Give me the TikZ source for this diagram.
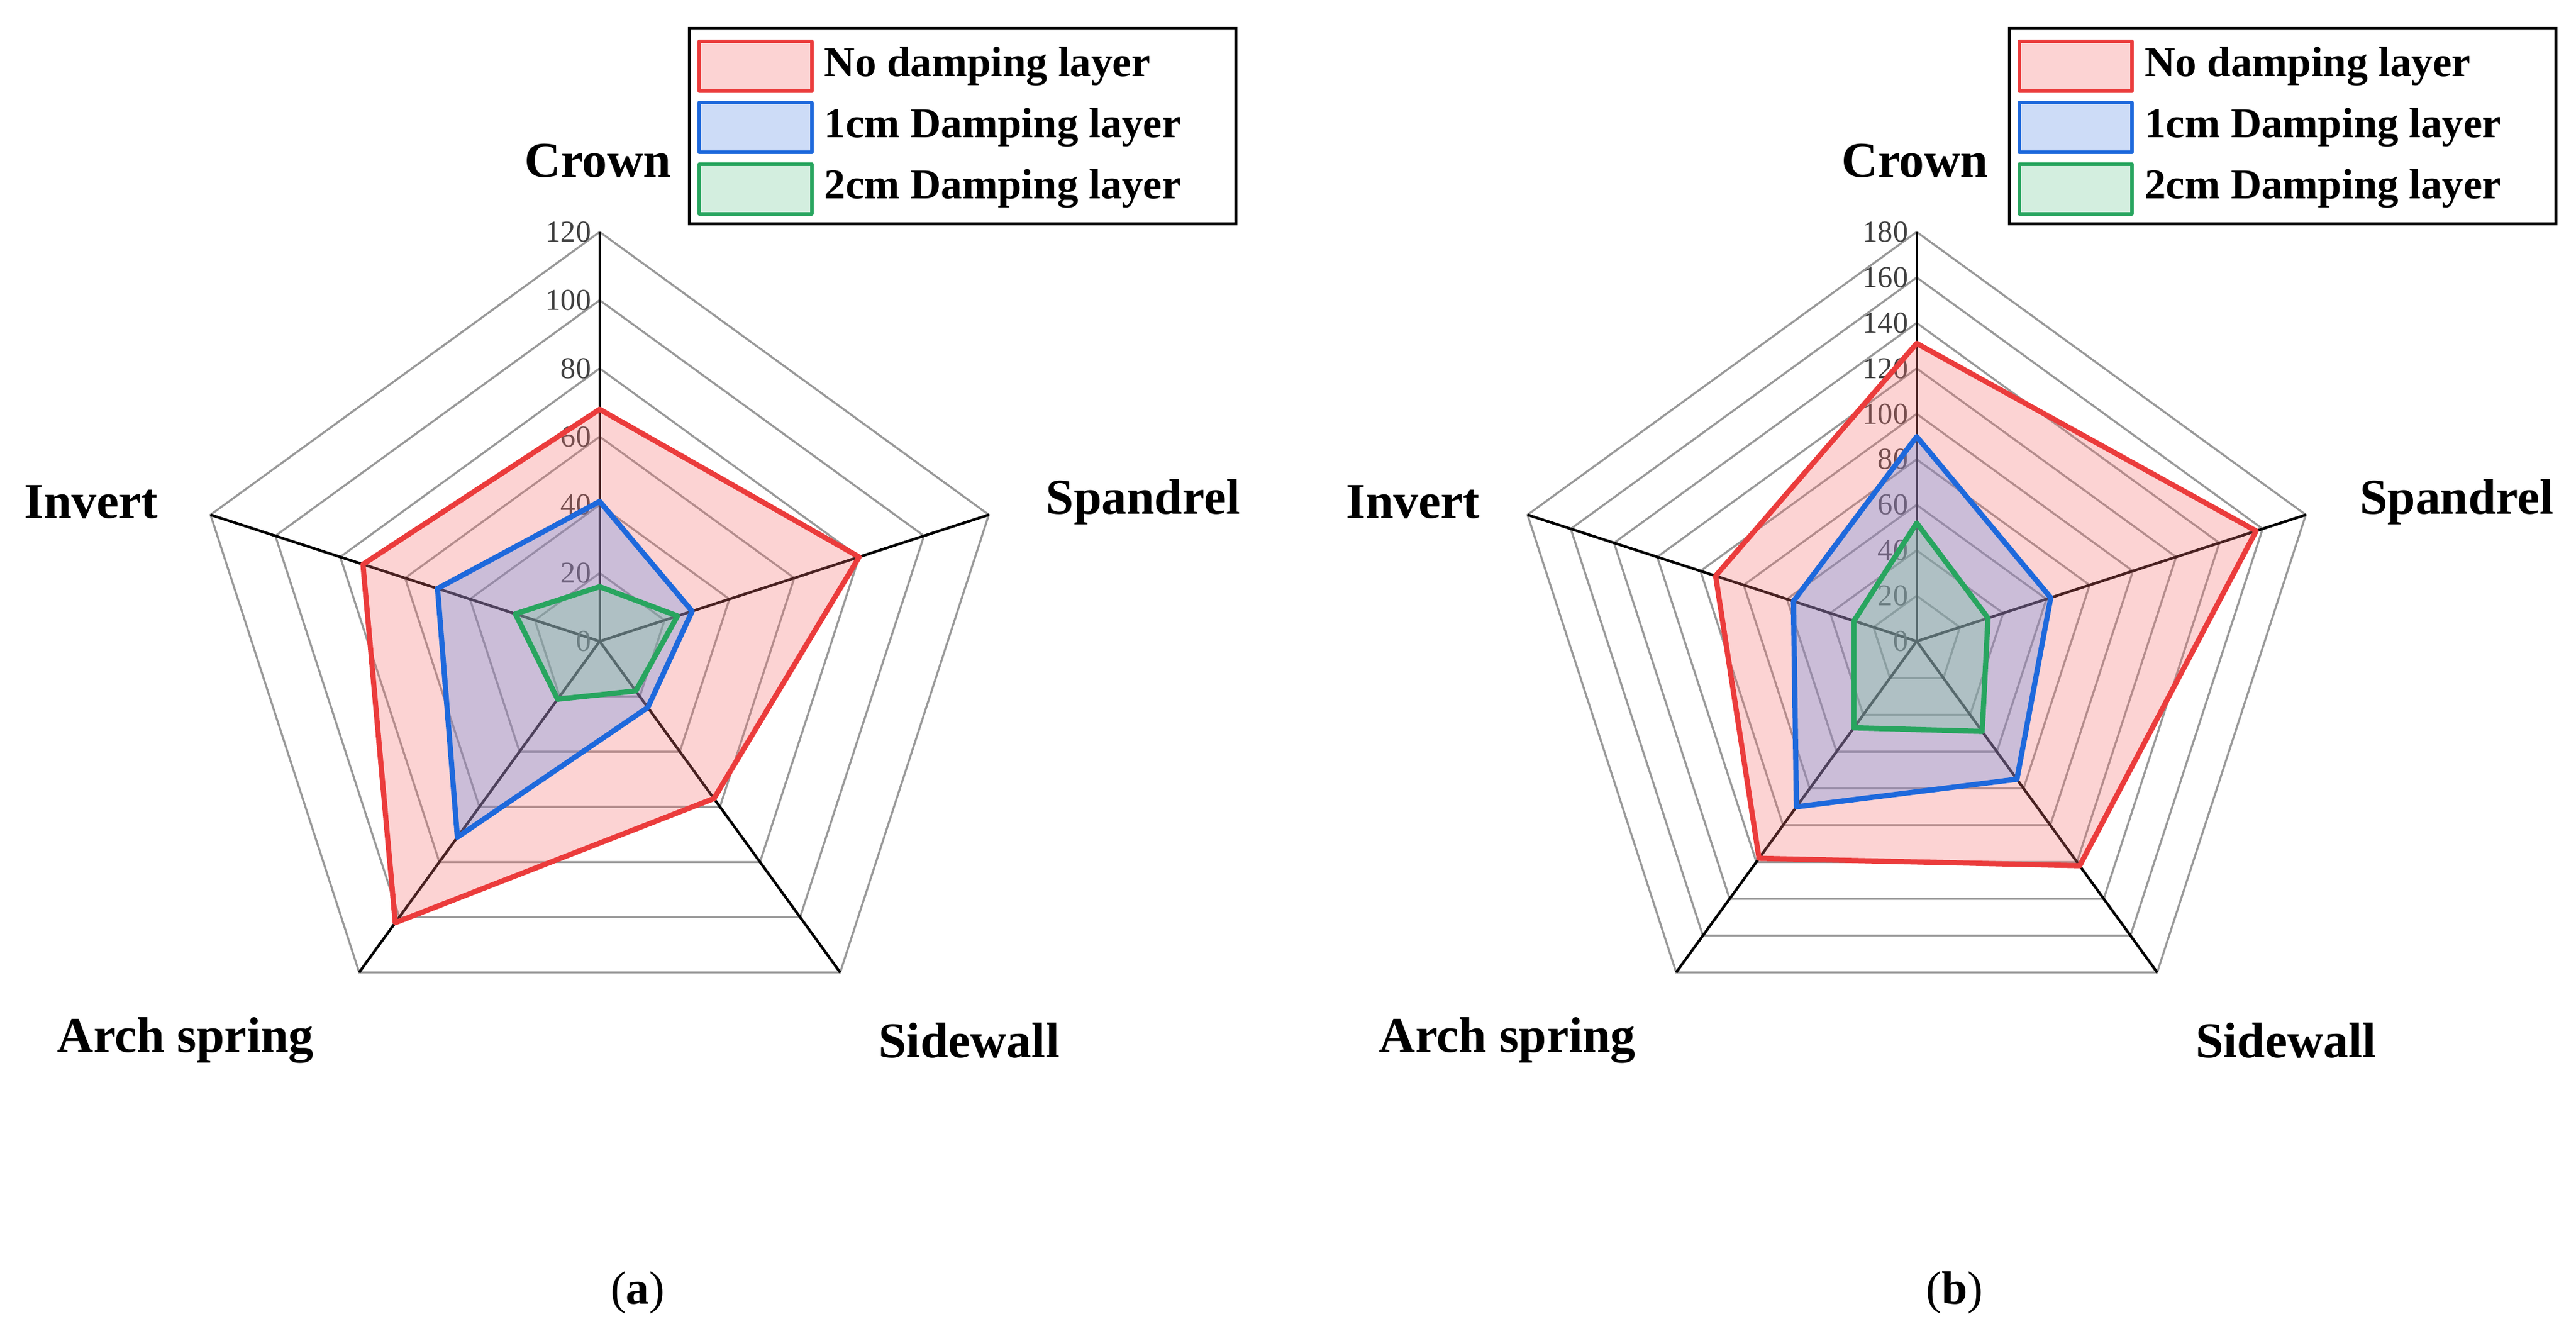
\documentclass[tikz,border=0pt]{standalone}
\usepackage{fontspec}
\setmainfont{Liberation Serif}
\begin{document}
\begin{tikzpicture}[x=1cm,y=1cm,
  ring/.style={draw=gray!80, line width=0.35pt},
  spoke/.style={draw=black, line width=0.45pt},
  tick/.style={font=\fontsize{5.2}{6}\selectfont, text=black!75, anchor=east, inner sep=1pt},
  axlab/.style={font=\bfseries\fontsize{8.6}{10}\selectfont},
  leg/.style={font=\bfseries\fontsize{7.3}{8.5}\selectfont, anchor=west, inner sep=0pt},
  redp/.style={draw={rgb,255:red,235;green,60;blue,60}, fill={rgb,255:red,245;green,110;blue,110}, fill opacity=0.3, line width=0.9pt, line join=round},
  bluep/.style={draw={rgb,255:red,30;green,105;blue,220}, fill={rgb,255:red,90;green,140;blue,230}, fill opacity=0.3, line width=0.9pt, line join=round},
  greenp/.style={draw={rgb,255:red,40;green,165;blue,95}, fill={rgb,255:red,110;green,200;blue,150}, fill opacity=0.3, line width=0.9pt, line join=round},
]
\useasboundingbox (0,0) rectangle (15.55,7.99);
\def\R{2.47}
% ---------------- chart (a)
\begin{scope}[shift={(3.62,4.12)}]
  \foreach \k in {1,...,6}{
    \draw[ring] (90:\k*\R/6) -- (18:\k*\R/6) -- (-54:\k*\R/6) -- (-126:\k*\R/6) -- (162:\k*\R/6) -- cycle;}
  \foreach \a in {90,18,-54,-126,162}{\draw[spoke] (0,0) -- (\a:\R);}
  \foreach \k in {0,...,6}{\pgfmathtruncatemacro\v{\k*20}\node[tick] (ta\k) at (-0.01,\k*\R/6) {\v};}
  \def\s{2.47/120}
  \filldraw[redp] (90:68*\s) -- (18:80*\s) -- (-54:57*\s) -- (-126:102*\s) -- (162:73*\s) -- cycle;
  \filldraw[bluep] (90:41*\s) -- (18:28.5*\s) -- (-54:24*\s) -- (-126:71*\s) -- (162:50*\s) -- cycle;
  \filldraw[greenp] (90:16*\s) -- (18:24*\s) -- (-54:18*\s) -- (-126:21*\s) -- (162:26*\s) -- cycle;
\end{scope}
\node[axlab] (cra) at (3.61,7.02) {Crown};
\node[axlab] (spa) at (6.90,4.96) {Spandrel};
\node[axlab] (swa) at (5.85,1.71) {Sidewall};
\node[axlab] (asa) at (1.12,1.71) {Arch spring};
\node[axlab] (iva) at (0.55,4.96) {Invert};
\node[font=\fontsize{8}{10}\selectfont] (capa) at (3.85,0.19) {(\textbf{a})};
% legend (a)
\draw[line width=0.5pt] (4.16,6.64) rectangle (7.46,7.82);
\filldraw[redp,line width=0.6pt] (4.22,7.44) rectangle (4.90,7.74);
\filldraw[bluep,line width=0.6pt] (4.22,7.07) rectangle (4.90,7.37);
\filldraw[greenp,line width=0.6pt] (4.22,6.70) rectangle (4.90,7.00);
\node[leg] (la1) at (4.97,7.59) {No damping layer};
\node[leg] (la2) at (4.97,7.22) {1cm Damping layer};
\node[leg] (la3) at (4.97,6.85) {2cm Damping layer};
% ---------------- chart (b)
\begin{scope}[shift={(11.57,4.12)}]
  \foreach \k in {1,...,9}{
    \draw[ring] (90:\k*\R/9) -- (18:\k*\R/9) -- (-54:\k*\R/9) -- (-126:\k*\R/9) -- (162:\k*\R/9) -- cycle;}
  \foreach \a in {90,18,-54,-126,162}{\draw[spoke] (0,0) -- (\a:\R);}
  \foreach \k in {0,...,9}{\pgfmathtruncatemacro\v{\k*20}\node[tick] (tb\k) at (-0.01,\k*\R/9) {\v};}
  \def\s{2.47/180}
  \filldraw[redp] (90:131*\s) -- (18:157*\s) -- (-54:122*\s) -- (-126:118*\s) -- (162:93*\s) -- cycle;
  \filldraw[bluep] (90:90*\s) -- (18:62*\s) -- (-54:75*\s) -- (-126:90*\s) -- (162:57*\s) -- cycle;
  \filldraw[greenp] (90:52*\s) -- (18:33*\s) -- (-54:49*\s) -- (-126:47*\s) -- (162:29*\s) -- cycle;
\end{scope}
\node[axlab] (crb) at (11.56,7.02) {Crown};
\node[axlab] (spb) at (14.83,4.96) {Spandrel};
\node[axlab] (swb) at (13.80,1.71) {Sidewall};
\node[axlab] (asb) at (9.10,1.71) {Arch spring};
\node[axlab] (ivb) at (8.53,4.96) {Invert};
\node[font=\fontsize{8}{10}\selectfont] (capb) at (11.80,0.19) {(\textbf{b})};
% legend (b)
\draw[line width=0.5pt] (12.13,6.64) rectangle (15.43,7.82);
\filldraw[redp,line width=0.6pt] (12.19,7.44) rectangle (12.87,7.74);
\filldraw[bluep,line width=0.6pt] (12.19,7.07) rectangle (12.87,7.37);
\filldraw[greenp,line width=0.6pt] (12.19,6.70) rectangle (12.87,7.00);
\node[leg] (lb1) at (12.94,7.59) {No damping layer};
\node[leg] (lb2) at (12.94,7.22) {1cm Damping layer};
\node[leg] (lb3) at (12.94,6.85) {2cm Damping layer};
\end{tikzpicture}
\end{document}
